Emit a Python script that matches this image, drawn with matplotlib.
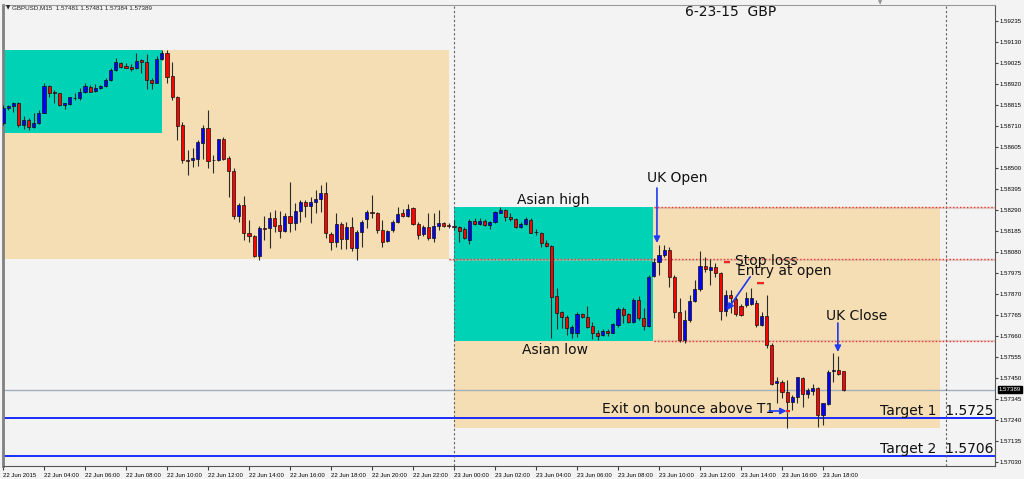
import matplotlib.pyplot as plt
from matplotlib.patches import Rectangle

# GBPUSD M15, 22 Jun 02:00 -> 23 Jun 19:00 (bar index 0..164)
open_ = [1.58723, 1.58798, 1.58808, 1.58823, 1.58713, 1.58738, 1.58703, 1.58723, 1.58773, 1.58908,
         1.58878, 1.58873, 1.58813, 1.58818, 1.58848, 1.58848, 1.58878, 1.58903, 1.58883, 1.58898,
         1.58908, 1.58938, 1.58988, 1.59023, 1.59008, 1.59003, 1.58998, 1.59038, 1.59028, 1.58938,
         1.58923, 1.59043, 1.59073, 1.58958, 1.58853, 1.58713, 1.58538, 1.58536, 1.58543, 1.58623,
         1.58698, 1.58538, 1.58538, 1.58643, 1.58548, 1.58483, 1.58258, 1.58313, 1.58173, 1.58158,
         1.58058, 1.58198, 1.58198, 1.58248, 1.58213, 1.58183, 1.58258, 1.58223, 1.58283, 1.58328,
         1.58308, 1.58328, 1.58343, 1.58373, 1.58168, 1.58128, 1.58218, 1.58143, 1.58203, 1.58098,
         1.58178, 1.58243, 1.58278, 1.58273, 1.58188, 1.58133, 1.58188, 1.58228, 1.58273, 1.58258,
         1.58298, 1.58218, 1.58168, 1.58203, 1.58148, 1.58208, 1.58223, 1.58213, 1.58208, 1.58203,
         1.58193, 1.58138, 1.58233, 1.58218, 1.58233, 1.58213, 1.58228, 1.58273, 1.58288, 1.58253,
         1.58243, 1.58203, 1.58218, 1.58238, 1.58178, 1.58173, 1.58123, 1.58108, 1.57858, 1.57778,
         1.57753, 1.57673, 1.57673, 1.57768, 1.57753, 1.57708, 1.57673, 1.57663, 1.57683, 1.57673,
         1.57713, 1.57793, 1.57768, 1.57728, 1.57838, 1.57748, 1.57708, 1.57958, 1.58028, 1.58063,
         1.58088, 1.57953, 1.57778, 1.57638, 1.57738, 1.57833, 1.57893, 1.58008, 1.57988, 1.58003,
         1.57973, 1.57783, 1.57863, 1.57843, 1.57808, 1.57813, 1.57818, 1.57823, 1.57713, 1.57758,
         1.57613, 1.57423, 1.57428, 1.57378, 1.57328, 1.57353, 1.57448, 1.57368, 1.57383, 1.57398,
         1.57263, 1.57318, 1.57483, 1.57488, 1.57481]
high = [1.58813, 1.58813, 1.58828, 1.58828, 1.58758, 1.58748, 1.58773, 1.58788, 1.58923, 1.58913,
        1.58888, 1.58873, 1.58823, 1.58853, 1.58873, 1.58898, 1.58923, 1.58913, 1.58918, 1.58913,
        1.58948, 1.58998, 1.59048, 1.59028, 1.59023, 1.59018, 1.59073, 1.59043, 1.59068, 1.58948,
        1.59058, 1.59088, 1.59088, 1.59028, 1.58858, 1.58728, 1.58588, 1.58598, 1.58638, 1.58713,
        1.58788, 1.58563, 1.58643, 1.58653, 1.58558, 1.58498, 1.58323, 1.58358, 1.58238, 1.58163,
        1.58208, 1.58258, 1.58278, 1.58288, 1.58283, 1.58273, 1.58428, 1.58323, 1.58338, 1.58338,
        1.58353, 1.58388, 1.58413, 1.58428, 1.58178, 1.58273, 1.58228, 1.58228, 1.58253, 1.58188,
        1.58238, 1.58288, 1.58363, 1.58278, 1.58238, 1.58188, 1.58238, 1.58303, 1.58293, 1.58318,
        1.58303, 1.58228, 1.58213, 1.58273, 1.58273, 1.58288, 1.58228, 1.58223, 1.58238, 1.58208,
        1.58203, 1.58243, 1.58248, 1.58248, 1.58243, 1.58233, 1.58283, 1.58303, 1.58293, 1.58273,
        1.58248, 1.58228, 1.58253, 1.58248, 1.58193, 1.58178, 1.58138, 1.58113, 1.57898, 1.57783,
        1.57763, 1.57713, 1.57778, 1.57773, 1.57808, 1.57728, 1.57688, 1.57693, 1.57693, 1.57723,
        1.57803, 1.57803, 1.57773, 1.57848, 1.57858, 1.57798, 1.57963, 1.58048, 1.58113, 1.58113,
        1.58103, 1.57963, 1.57848, 1.57788, 1.57863, 1.57938, 1.58083, 1.58053, 1.58043, 1.58023,
        1.57978, 1.57888, 1.57888, 1.57853, 1.57818, 1.57878, 1.57898, 1.57838, 1.57778, 1.57863,
        1.57623, 1.57453, 1.57438, 1.57438, 1.57363, 1.57453, 1.57453, 1.57398, 1.57418, 1.57403,
        1.57323, 1.57488, 1.57573, 1.57558, 1.57481]
low = [1.58713, 1.58788, 1.58778, 1.58703, 1.58693, 1.58688, 1.58698, 1.58718, 1.58773, 1.58853,
       1.58823, 1.58808, 1.58793, 1.58813, 1.58838, 1.58838, 1.58873, 1.58878, 1.58878, 1.58893,
       1.58903, 1.58933, 1.58983, 1.58998, 1.58998, 1.58983, 1.58993, 1.58973, 1.58893, 1.58893,
       1.58923, 1.59038, 1.58923, 1.58838, 1.58638, 1.58523, 1.58463, 1.58503, 1.58508, 1.58543,
       1.58498, 1.58473, 1.58533, 1.58538, 1.58353, 1.58243, 1.58228, 1.58138, 1.58128, 1.58053,
       1.58038, 1.58138, 1.58098, 1.58178, 1.58148, 1.58178, 1.58178, 1.58188, 1.58228, 1.58253,
       1.58223, 1.58273, 1.58278, 1.58148, 1.58088, 1.58103, 1.58093, 1.58093, 1.58083, 1.58038,
       1.58103, 1.58198, 1.58248, 1.58173, 1.58103, 1.58128, 1.58178, 1.58223, 1.58253, 1.58253,
       1.58213, 1.58143, 1.58158, 1.58138, 1.58128, 1.58188, 1.58203, 1.58198, 1.58188, 1.58128,
       1.58143, 1.58118, 1.58213, 1.58213, 1.58208, 1.58193, 1.58223, 1.58273, 1.58233, 1.58233,
       1.58198, 1.58198, 1.58213, 1.58173, 1.58163, 1.58103, 1.58103, 1.57648, 1.57693, 1.57698,
       1.57663, 1.57648, 1.57653, 1.57748, 1.57698, 1.57643, 1.57638, 1.57658, 1.57658, 1.57673,
       1.57703, 1.57723, 1.57723, 1.57723, 1.57738, 1.57688, 1.57703, 1.57953, 1.57963, 1.58053,
       1.57903, 1.57748, 1.57628, 1.57623, 1.57728, 1.57828, 1.57883, 1.57978, 1.57913, 1.57953,
       1.57738, 1.57758, 1.57773, 1.57758, 1.57758, 1.57803, 1.57813, 1.57703, 1.57708, 1.57598,
       1.57413, 1.57323, 1.57348, 1.57198, 1.57288, 1.57323, 1.57303, 1.57348, 1.57363, 1.57203,
       1.57213, 1.57313, 1.57428, 1.57463, 1.57384]
close = [1.58798, 1.58808, 1.58823, 1.58713, 1.58738, 1.58703, 1.58723, 1.58773, 1.58908, 1.58873,
         1.58873, 1.58813, 1.58823, 1.58853, 1.58846, 1.58878, 1.58908, 1.58878, 1.58898, 1.58908,
         1.58938, 1.58988, 1.59028, 1.59003, 1.58998, 1.58993, 1.59033, 1.59028, 1.58938, 1.58923,
         1.59043, 1.59073, 1.58953, 1.58853, 1.58708, 1.58538, 1.58531, 1.58548, 1.58628, 1.58698,
         1.58533, 1.58536, 1.58643, 1.58543, 1.58483, 1.58258, 1.58313, 1.58173, 1.58158, 1.58058,
         1.58198, 1.58193, 1.58248, 1.58208, 1.58183, 1.58258, 1.58223, 1.58283, 1.58328, 1.58308,
         1.58328, 1.58343, 1.58373, 1.58173, 1.58128, 1.58218, 1.58143, 1.58203, 1.58098, 1.58178,
         1.58228, 1.58278, 1.58273, 1.58188, 1.58128, 1.58183, 1.58228, 1.58268, 1.58258, 1.58293,
         1.58218, 1.58163, 1.58203, 1.58148, 1.58208, 1.58223, 1.58208, 1.58208, 1.58203, 1.58183,
         1.58148, 1.58233, 1.58218, 1.58233, 1.58213, 1.58228, 1.58278, 1.58288, 1.58253, 1.58243,
         1.58203, 1.58218, 1.58243, 1.58173, 1.58176, 1.58123, 1.58108, 1.57853, 1.57773, 1.57753,
         1.57698, 1.57703, 1.57768, 1.57753, 1.57703, 1.57673, 1.57658, 1.57683, 1.57673, 1.57718,
         1.57793, 1.57763, 1.57728, 1.57838, 1.57748, 1.57708, 1.57953, 1.58028, 1.58063, 1.58088,
         1.57953, 1.57778, 1.57638, 1.57738, 1.57833, 1.57893, 1.58008, 1.57993, 1.58003, 1.57973,
         1.57783, 1.57863, 1.57848, 1.57768, 1.57763, 1.57848, 1.57848, 1.57713, 1.57758, 1.57613,
         1.57418, 1.57433, 1.57378, 1.57328, 1.57353, 1.57453, 1.57368, 1.57388, 1.57398, 1.57263,
         1.57323, 1.57478, 1.57488, 1.57468, 1.57389]

time_labels = ['22 Jun 2015', '22 Jun 04:00', '22 Jun 06:00', '22 Jun 08:00', '22 Jun 10:00',
               '22 Jun 12:00', '22 Jun 14:00', '22 Jun 16:00', '22 Jun 18:00', '22 Jun 20:00',
               '22 Jun 22:00', '23 Jun 00:00', '23 Jun 02:00', '23 Jun 04:00', '23 Jun 06:00',
               '23 Jun 08:00', '23 Jun 10:00', '23 Jun 12:00', '23 Jun 14:00', '23 Jun 16:00',
               '23 Jun 18:00']
price_ticks = [1.57030, 1.57135, 1.57240, 1.57345, 1.57450, 1.57555, 1.57660, 1.57765,
               1.57870, 1.57975, 1.58080, 1.58185, 1.58290, 1.58395, 1.58500, 1.58605,
               1.58710, 1.58815, 1.58920, 1.59025, 1.59130, 1.59235]

# session boxes: (first bar, last bar, top, bottom)
asia_boxes = [(-1.0, 31.0, 1.59088, 1.58673), (88.0, 126.8, 1.58303, 1.57633)]
day_boxes = [(-1.0, 87.0, 1.59088, 1.58043), (88.0, 182.8, 1.58303, 1.57198)]
day_breaks = [88, 184]

asian_high = 1.58302
asian_low = 1.57635
stop_loss = 1.58042
target1 = 1.5725
target2 = 1.5706
last_price = 1.57389

BG = '#f3f3f3'
TEAL = '#00d2b6'
TAN = '#f5deb3'
ARROW = '#1f3bef'

fig = plt.figure(figsize=(10.24, 4.79), dpi=100, facecolor=BG)
ax = fig.add_axes([3 / 1024, 13 / 479, 992 / 1024, 461 / 479])
ax.set_facecolor(BG)
ax.set_xlim(0, 193.56)
ax.set_ylim(1.57008, 1.59313)

for x0, x1, top, bot in day_boxes:
    ax.add_patch(Rectangle((x0, bot), x1 - x0, top - bot, facecolor=TAN, edgecolor='none', zorder=1))
for x0, x1, top, bot in asia_boxes:
    ax.add_patch(Rectangle((x0, bot), x1 - x0, top - bot, facecolor=TEAL, edgecolor='none', zorder=1.5))

# horizontal levels
ax.axhline(last_price, color='#a3afbb', lw=1, zorder=2)
ax.axhline(target1, color='#1a2cff', lw=1.4, zorder=2)
ax.axhline(target2, color='#1a2cff', lw=1.4, zorder=2)
for lvl, start in [(asian_high, 127), (stop_loss, 87), (asian_low, 127)]:
    ax.hlines(lvl - 0.00004, start, 194, color='#c8b8a8', lw=1.5, alpha=0.5, zorder=2)
    ax.hlines(lvl, start, 194, color='#ff3030', lw=1, linestyles=(0, (1, 1.5)), zorder=2.1)
for xb in day_breaks:
    ax.axvline(xb, color='#606060', lw=0.8, linestyle=(0, (2, 2)), zorder=2)

# candles
for i in range(len(close)):
    o, h, l, c = open_[i], high[i], low[i], close[i]
    ax.vlines(i, l, h, color='#2a2a2a', lw=0.8, zorder=3)
    if c > o:
        col = '#0000ff'
    elif c < o:
        col = '#ff0000'
    else:
        col = '#000000'
    body = max(abs(c - o), 0.00003)
    ax.bar(i, body, bottom=min(o, c), width=0.62, color=col, edgecolor='#111111', linewidth=0.5, zorder=4)

# annotations
txt = dict(fontsize=10, color='#111111', va='center', ha='left', zorder=6)
ax.text(133.1, 1.59278, '6-23-15  GBP', **txt)
ax.text(125.7, 1.58448, 'UK Open', **txt)
ax.text(100.3, 1.58338, 'Asian high', **txt)
ax.text(101.3, 1.57588, 'Asian low', **txt)
ax.text(142.8, 1.58033, 'Stop loss', **txt)
ax.text(143.2, 1.57983, 'Entry at open', **txt)
ax.text(160.6, 1.57758, 'UK Close', **txt)
ax.text(116.9, 1.57293, 'Exit on bounce above T1', **txt)
ax.text(171.1, 1.57283, 'Target 1  1.5725', **txt)
ax.text(171.1, 1.57093, 'Target 2  1.5706', **txt)

arrow = dict(arrowstyle='-|>', color=ARROW, lw=1.2, mutation_scale=9, shrinkA=0, shrinkB=0)
ax.annotate('', xy=(127.6, 1.58123), xytext=(127.6, 1.58398), arrowprops=arrow, zorder=6)
ax.annotate('', xy=(162.9, 1.57578), xytext=(162.9, 1.57723), arrowprops=arrow, zorder=6)
ax.annotate('', xy=(141.3, 1.57788), xytext=(145.8, 1.57954), arrowprops=arrow, zorder=6)
ax.annotate('', xy=(152.9, 1.57283), xytext=(149.5, 1.57283), arrowprops=arrow, zorder=6)

for x0, x1, lvl in [(140.7, 141.9, 1.58028), (147.1, 148.5, 1.57923), (152.8, 153.6, 1.57283)]:
    ax.hlines(lvl - 0.00004, x0, x1, color='#b0a090', lw=1.5, alpha=0.5, zorder=6)
    ax.hlines(lvl, x0, x1, color='#ff2020', lw=1.5, zorder=6)

# axes
ax.set_xticks(range(0, 161, 8))
ax.set_xticklabels(time_labels, ha='left', fontsize=4.3, family='Liberation Sans')
ax.tick_params(axis='x', direction='out', length=3, pad=2, color='#404040')
ax.yaxis.tick_right()
ax.set_yticks(price_ticks)
ax.set_yticklabels([f'{p:.5f}' for p in price_ticks], fontsize=4.4, family='Liberation Sans')
ax.tick_params(axis='y', direction='out', length=2, pad=1.5, color='#404040')
for lbl in ax.get_xticklabels():
    lbl.set_x(lbl.get_position()[0])
ax.spines['right'].set_color('#555555')
ax.spines['bottom'].set_color('#555555')
ax.spines['top'].set_color('#9a9a9a')
ax.spines['left'].set_color('#808080')
ax.spines['left'].set_linewidth(2)

ax.text(1.004, last_price, '1.57389', transform=ax.get_yaxis_transform(), ha='left', va='center',
        fontsize=4.4, color='white', family='Liberation Sans',
        bbox=dict(boxstyle='square,pad=0.15', fc='black', ec='black'), clip_on=False, zorder=7)

fig.text(6 / 1024, 1 - 7.5 / 479, '\u25bc', fontsize=4, color='#222222', va='center', ha='left')
fig.text(12.5 / 1024, 1 - 7.5 / 479, 'GBPUSD,M15  1.57481 1.57481 1.57384 1.57389',
         fontsize=4.5, color='#222222', va='center', ha='left', family='Liberation Sans')
fig.text(880 / 1024, 1 - 3 / 479, '\u25bc', fontsize=4, color='#909090', va='center', ha='center')

fig.savefig('out.png', dpi=100, facecolor=BG)
